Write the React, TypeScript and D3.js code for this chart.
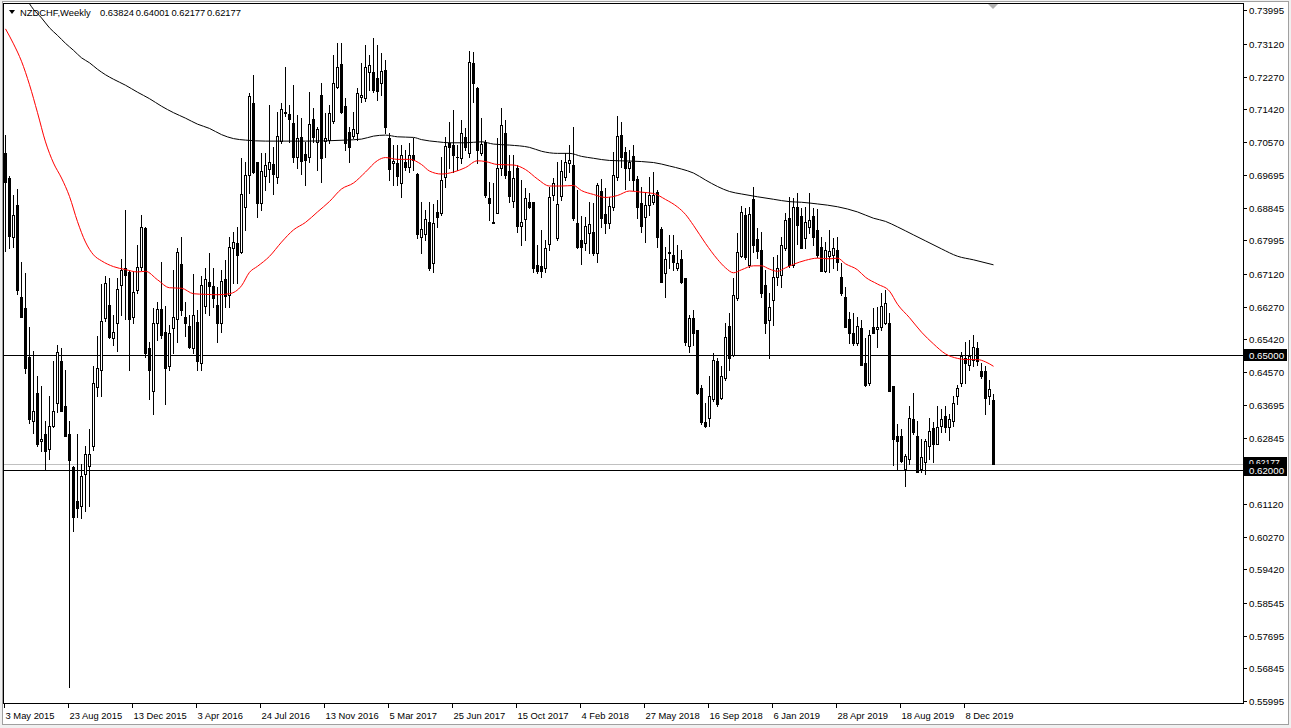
import React, { useEffect } from 'react';
import * as d3 from 'd3';

// Weekly NZDCHF candles, 3 May 2015 .. 26 Jan 2020 (248 weeks)
const opens = [
0.7027,0.6962,0.6809,0.6892,0.6653,0.6623,0.6495,0.6329,0.6401,0.6276,
0.6295,0.6257,0.6317,0.6375,0.6484,0.6369,0.6295,0.6208,0.6120,0.6107,
0.6190,0.6212,0.6264,0.6417,0.6463,0.6598,0.6631,0.6545,0.6585,0.6684,
0.6728,0.6718,0.6601,0.6670,0.6731,0.6832,0.6520,0.6406,0.6585,0.6622,
0.6562,0.6471,0.6572,0.6596,0.6739,0.6601,0.6577,0.6518,0.6588,0.6481,
0.6629,0.6692,0.6682,0.6632,0.6585,0.6700,0.6658,0.6780,0.6793,0.6770,
0.6887,0.6970,0.7158,0.7004,0.6897,0.6968,0.6986,0.6999,0.6965,0.7059,
0.7134,0.7129,0.7106,0.7017,0.7069,0.7025,0.7017,0.7116,0.7056,0.7178,
0.7059,0.7061,0.7111,0.7199,0.7259,0.7150,0.7082,0.7072,0.7080,0.7173,
0.7171,0.7238,0.7238,0.7223,0.7210,0.7243,0.7067,0.7002,0.7002,0.6949,
0.7004,0.6991,0.7022,0.6973,0.6809,0.6817,0.6848,0.6741,0.6874,0.6871,
0.6965,0.7054,0.7048,0.7017,0.7015,0.7069,0.7028,0.7262,0.7197,0.7028,
0.7056,0.6910,0.6845,0.6871,0.6988,0.7080,0.6981,0.6903,0.6988,0.6838,
0.6856,0.6900,0.6900,0.6736,0.6734,0.6728,0.6791,0.6918,0.6806,0.6916,
0.6965,0.7002,0.6996,0.6845,0.6801,0.6793,0.6819,0.6822,0.6767,0.6929,
0.6869,0.6845,0.6887,0.6965,0.7074,0.7030,0.6988,0.7020,0.6960,0.6897,
0.6861,0.6892,0.6900,0.6926,0.6830,0.6715,0.6767,0.6762,0.6728,0.6752,
0.6702,0.6525,0.6598,0.6567,0.6416,0.6325,0.6336,0.6385,0.6486,0.6388,
0.6442,0.6577,0.6502,0.6650,0.6760,0.6866,0.6736,0.6908,0.6804,0.6775,
0.6684,0.6593,0.6645,0.6705,0.6710,0.6780,0.6858,0.6736,0.6887,0.6864,
0.6806,0.6835,0.6864,0.6827,0.6783,0.6721,0.6760,0.6762,0.6775,0.6705,
0.6653,0.6596,0.6557,0.6533,0.6572,0.6481,0.6427,0.6575,0.6570,0.6575,
0.6585,0.6585,0.6419,0.6289,0.6289,0.6203,0.6231,0.6333,0.6289,0.6203,
0.6221,0.6263,0.6310,0.6270,0.6315,0.6341,0.6312,0.6328,0.6393,0.6429,
0.6494,0.6476,0.6489,0.6520,0.6460,0.6458,0.6393,0.63824];

const highs = [
0.7074,0.6968,0.6918,0.6934,0.6744,0.6715,0.6573,0.6512,0.6445,0.6419,
0.6328,0.6395,0.6484,0.6526,0.6518,0.6463,0.6328,0.6212,0.6295,0.6218,
0.6263,0.6307,0.6471,0.6551,0.6687,0.6708,0.6701,0.6606,0.6701,0.6752,
0.6879,0.6723,0.6718,0.6788,0.6866,0.6835,0.6534,0.6623,0.6640,0.6744,
0.6629,0.6579,0.6723,0.6779,0.6809,0.6640,0.6606,0.6713,0.6618,0.6706,
0.6728,0.6767,0.6728,0.6679,0.6723,0.6749,0.6809,0.6822,0.6835,0.7015,
0.7004,0.7184,0.7230,0.7004,0.7028,0.7028,0.7152,0.7043,0.7134,0.7158,
0.7251,0.7152,0.7204,0.7126,0.7119,0.7056,0.7186,0.7145,0.7095,0.7210,
0.7132,0.7152,0.7282,0.7314,0.7314,0.7171,0.7095,0.7134,0.7197,0.7262,
0.7308,0.7282,0.7327,0.7308,0.7288,0.7269,0.7080,0.7048,0.7048,0.7048,
0.7035,0.7054,0.7067,0.6975,0.6900,0.6879,0.6900,0.6895,0.6905,0.7017,
0.7069,0.7108,0.7139,0.7048,0.7113,0.7093,0.7293,0.7290,0.7199,0.7119,
0.7061,0.6952,0.6949,0.7067,0.7145,0.7113,0.7022,0.7022,0.6996,0.6957,
0.6936,0.6923,0.6900,0.6788,0.6827,0.6801,0.6939,0.6962,0.7004,0.7009,
0.7028,0.7048,0.7095,0.6931,0.6864,0.6861,0.6900,0.6897,0.6949,0.6960,
0.6936,0.6913,0.7030,0.7124,0.7108,0.7043,0.7035,0.7048,0.6968,0.6939,
0.6926,0.6965,0.6978,0.6931,0.6835,0.6783,0.6814,0.6814,0.6788,0.6775,
0.6702,0.6606,0.6619,0.6567,0.6424,0.6377,0.6445,0.6507,0.6494,0.6471,
0.6585,0.6611,0.6702,0.6819,0.6890,0.6884,0.6887,0.6939,0.6832,0.6822,
0.6723,0.6663,0.6757,0.6762,0.6809,0.6871,0.6913,0.6910,0.6923,0.6884,
0.6887,0.6923,0.6884,0.6882,0.6809,0.6796,0.6827,0.6806,0.6809,0.6741,
0.6679,0.6614,0.6611,0.6601,0.6593,0.6546,0.6567,0.6624,0.6627,0.6663,
0.6671,0.6611,0.6421,0.6320,0.6307,0.6242,0.6367,0.6403,0.6328,0.6283,
0.6281,0.6336,0.6325,0.6367,0.6359,0.6367,0.6346,0.6393,0.6424,0.6510,
0.6536,0.6541,0.6554,0.6536,0.6481,0.6473,0.6437,0.64001];

const lows = [
0.6773,0.6780,0.6783,0.6661,0.6600,0.6453,0.6323,0.6297,0.6263,0.6250,
0.6200,0.6229,0.6312,0.6351,0.6354,0.6289,0.5634,0.6043,0.6078,0.6075,
0.6095,0.6107,0.6252,0.6395,0.6395,0.6590,0.6545,0.6528,0.6512,0.6606,
0.6596,0.6463,0.6585,0.6662,0.6723,0.6495,0.6385,0.6346,0.6540,0.6546,
0.6373,0.6463,0.6507,0.6534,0.6606,0.6551,0.6518,0.6507,0.6463,0.6463,
0.6611,0.6606,0.6627,0.6536,0.6562,0.6627,0.6627,0.6689,0.6689,0.6767,
0.6827,0.6923,0.6975,0.6861,0.6879,0.6931,0.6952,0.6921,0.6949,0.7054,
0.7124,0.7056,0.7004,0.6988,0.6973,0.6944,0.7004,0.7056,0.6983,0.6952,
0.7017,0.7054,0.7106,0.7197,0.7132,0.7035,0.7004,0.7067,0.7061,0.7160,
0.7163,0.7191,0.7186,0.7165,0.7178,0.7080,0.6957,0.6944,0.6944,0.6913,
0.6983,0.6978,0.6983,0.6806,0.6767,0.6801,0.6723,0.6718,0.6835,0.6866,
0.6939,0.6988,0.6978,0.6983,0.7002,0.7035,0.7017,0.7160,0.7002,0.7022,
0.6913,0.6853,0.6845,0.6871,0.6970,0.6962,0.6900,0.6887,0.6822,0.6788,
0.6801,0.6884,0.6718,0.6715,0.6705,0.6718,0.6775,0.6905,0.6801,0.6905,
0.6957,0.6978,0.6853,0.6780,0.6739,0.6775,0.6767,0.6762,0.6744,0.6835,
0.6819,0.6832,0.6879,0.6957,0.6991,0.6934,0.6957,0.6931,0.6858,0.6822,
0.6796,0.6866,0.6895,0.6783,0.6692,0.6653,0.6728,0.6723,0.6723,0.6689,
0.6528,0.6510,0.6528,0.6398,0.6320,0.6312,0.6315,0.6380,0.6369,0.6385,
0.6437,0.6463,0.6499,0.6645,0.6757,0.6752,0.6731,0.6770,0.6754,0.6653,
0.6559,0.6494,0.6580,0.6684,0.6679,0.6775,0.6731,0.6731,0.6790,0.6780,
0.6780,0.6819,0.6788,0.6757,0.6721,0.6718,0.6718,0.6728,0.6723,0.6658,
0.6575,0.6533,0.6528,0.6528,0.6476,0.6419,0.6424,0.6559,0.6523,0.6567,
0.6583,0.6408,0.6213,0.6203,0.6221,0.6159,0.6216,0.6296,0.6195,0.6195,
0.6190,0.6229,0.6221,0.6268,0.6299,0.6299,0.6278,0.6315,0.6372,0.6419,
0.6427,0.6463,0.6471,0.6476,0.6442,0.6346,0.6372,0.62177];

const closes = [
0.6952,0.6812,0.6866,0.6671,0.6601,0.6468,0.6334,0.6356,0.6268,0.6281,
0.6251,0.6315,0.6356,0.6509,0.6356,0.6289,0.6226,0.6078,0.6103,0.6185,
0.6242,0.6244,0.6429,0.6468,0.6590,0.6689,0.6549,0.6562,0.6674,0.6723,
0.6710,0.6596,0.6666,0.6731,0.6835,0.6507,0.6463,0.6585,0.6622,0.6554,
0.6466,0.6557,0.6601,0.6770,0.6619,0.6585,0.6523,0.6606,0.6486,0.6684,
0.6700,0.6682,0.6650,0.6585,0.6695,0.6655,0.6783,0.6796,0.6762,0.6921,
0.6970,0.7176,0.6978,0.6897,0.6981,0.6996,0.7004,0.6973,0.7072,0.7142,
0.7132,0.7116,0.7017,0.7067,0.7007,0.7009,0.7103,0.7069,0.7090,0.7015,
0.7067,0.7132,0.7210,0.7251,0.7134,0.7054,0.7043,0.7090,0.7184,0.7178,
0.7251,0.7256,0.7191,0.7189,0.7241,0.7095,0.6986,0.7007,0.6968,0.7022,
0.6991,0.7022,0.7009,0.6817,0.6830,0.6856,0.6728,0.6845,0.6861,0.6957,
0.7046,0.7043,0.7022,0.7018,0.7080,0.7043,0.7264,0.7210,0.7035,0.7051,
0.6918,0.6897,0.6848,0.6988,0.7100,0.6970,0.6916,0.6962,0.6838,0.6848,
0.6910,0.6887,0.6728,0.6721,0.6721,0.6780,0.6913,0.6949,0.6895,0.6981,
0.7004,0.7009,0.6858,0.6783,0.6783,0.6838,0.6843,0.6767,0.6944,0.6858,
0.6845,0.6890,0.6970,0.7072,0.7017,0.6988,0.7004,0.6957,0.6887,0.6838,
0.6892,0.6918,0.6918,0.6809,0.6692,0.6752,0.6770,0.6744,0.6741,0.6692,
0.6536,0.6598,0.6559,0.6403,0.6325,0.6317,0.6393,0.6489,0.6372,0.6445,
0.6549,0.6494,0.6658,0.6770,0.6874,0.6757,0.6869,0.6788,0.6773,0.6663,
0.6585,0.6627,0.6705,0.6728,0.6788,0.6853,0.6736,0.6887,0.6840,0.6780,
0.6848,0.6853,0.6809,0.6762,0.6721,0.6775,0.6773,0.6780,0.6744,0.6663,
0.6575,0.6559,0.6531,0.6577,0.6476,0.6424,0.6554,0.6559,0.6575,0.6629,
0.6637,0.6408,0.6283,0.6276,0.6224,0.6237,0.6336,0.6299,0.6195,0.6234,
0.6276,0.6302,0.6270,0.6312,0.6333,0.6312,0.6333,0.6377,0.6414,0.6499,
0.6479,0.6499,0.6523,0.6484,0.6445,0.6390,0.6411,0.62177];

// Moving averages: [bar index, value]
const redMa: [number, number][] = [
[0,0.73514],[2,0.73123],[4,0.72668],[6,0.72057],[8,0.71328],[10,0.70566],[12,0.70015],[14,0.69624],
[16,0.69143],[18,0.68487],[20,0.67954],[22,0.67621],[24,0.67465],[27,0.67314],[30,0.67236],[33,0.67176],
[35,0.67192],[38,0.66971],[41,0.66763],[44,0.66750],[47,0.66607],[50,0.66591],[53,0.66581],[56,0.66607],
[59,0.66815],[61,0.67166],[63,0.67322],[66,0.67582],[69,0.67952],[72,0.68272],[75,0.68467],[78,0.68740],
[81,0.69013],[84,0.69338],[87,0.69494],[90,0.69780],[93,0.70080],[95,0.70158],[98,0.70111],[101,0.70111],
[104,0.69976],[106,0.69806],[109,0.69728],[112,0.69780],[115,0.69897],[118,0.70074],[120,0.70054],[123,0.69976],
[127,0.69963],[130,0.69845],[133,0.69598],[136,0.69416],[139,0.69416],[142,0.69429],[144,0.69297],[147,0.69195],
[150,0.69117],[153,0.69169],[156,0.69286],[159,0.69255],[162,0.69221],[165,0.69065],[168,0.68870],[170,0.68675],
[172,0.68389],[175,0.67920],[178,0.67504],[180,0.67283],[182,0.67153],[184,0.67231],[187,0.67335],[189,0.67335],
[191,0.67249],[193,0.67192],[195,0.67283],[197,0.67374],[200,0.67478],[203,0.67535],[206,0.67517],[208,0.67535],
[210,0.67387],[213,0.67231],[215,0.67036],[218,0.66859],[221,0.66674],[223,0.66333],[226,0.65982],[229,0.65605],
[232,0.65298],[235,0.65038],[238,0.64921],[240,0.64890],[243,0.64890],[245,0.64830],[247,0.64715]];

const blackMa: [number, number][] = [
[5,0.74333],[7,0.74021],[9,0.73800],[11,0.73540],[13,0.73344],[15,0.73136],[17,0.72954],[19,0.72759],
[21,0.72629],[23,0.72460],[25,0.72317],[27,0.72200],[30,0.72044],[33,0.71862],[36,0.71693],[39,0.71497],
[42,0.71328],[45,0.71185],[48,0.71029],[51,0.70917],[54,0.70756],[57,0.70652],[60,0.70613],[65,0.70587],
[75,0.70587],[85,0.70613],[89,0.70639],[92,0.70717],[95,0.70743],[98,0.70699],[102,0.70683],[104,0.70626],
[108,0.70569],[111,0.70543],[115,0.70543],[119,0.70569],[122,0.70509],[126,0.70483],[131,0.70423],[134,0.70322],
[138,0.70267],[141,0.70267],[144,0.70189],[147,0.70139],[151,0.70082],[156,0.70067],[162,0.70028],[166,0.69937],
[169,0.69858],[172,0.69754],[175,0.69572],[178,0.69403],[181,0.69273],[184,0.69208],[188,0.69135],[192,0.69070],
[196,0.69008],[199,0.68992],[203,0.68948],[208,0.68875],[213,0.68740],[217,0.68576],[220,0.68493],[223,0.68350],
[227,0.68141],[230,0.67985],[234,0.67777],[238,0.67585],[242,0.67491],[247,0.67361]];

const priceTicks = [0.73995,0.73120,0.72270,0.71420,0.70570,0.69695,0.68845,0.67995,0.67120,0.66270,
0.65420,0.64570,0.63695,0.62845,0.61120,0.60270,0.59420,0.58545,0.57695,0.56845,0.55995];

const dateLabels = ['3 May 2015','23 Aug 2015','13 Dec 2015','3 Apr 2016','24 Jul 2016','13 Nov 2016',
'5 Mar 2017','25 Jun 2017','15 Oct 2017','4 Feb 2018','27 May 2018','16 Sep 2018','6 Jan 2019',
'28 Apr 2019','18 Aug 2019','8 Dec 2019'];
const dateLabelBars = [0,16,32,48,64,80,96,112,128,144,160,176,192,208,224,240];

const levelLines = [0.65, 0.62];
const bidPrice = 0.62177;
const symbolName = 'NZDCHF,Weekly';
const titleValues = ['0.63824', '0.64001', '0.62177', '0.62177'];

const FONT = "'Liberation Sans', Arial, sans-serif";

export default function App() {
  useEffect(() => {
    document.body.style.margin = '0';
  }, []);
  const W = 1291, H = 728;
  const left = 3.5, top = 3.5, right = 1243.5, bottom = 703.5;
  const x = d3.scaleLinear().domain([0, 247]).range([5, 993]);
  const y = d3.scaleLinear().domain([0.55995, 0.73995]).range([700.7, 10.4]);

  const line = d3.line<[number, number]>()
    .x(d => Math.round(x(d[0])) + 0.5)
    .y(d => y(d[1]))
    .curve(d3.curveMonotoneX);

  const fmt = (v: number) => v.toFixed(5);

  return (
    <svg width={W} height={H} style={{ position: 'absolute', left: 0, top: 0, display: 'block' }}
      fontFamily={FONT}>
      <defs>
        <clipPath id="plot">
          <rect x={left + 0.5} y={top + 0.5} width={right - left - 1} height={bottom - top - 1} />
        </clipPath>
      </defs>
      <rect x={0} y={0} width={W} height={H} fill="#f0f0f0" />
      <rect x={2.5} y={1.5} width={W - 5} height={H - 5} fill="#ffffff" stroke="#a0a0a0" />
      {/* frame */}
      <rect x={left} y={top} width={right - left} height={bottom - top} fill="none" stroke="#000" shapeRendering="crispEdges" />

      <g clipPath="url(#plot)">
        {/* bid line */}
        <line x1={left} x2={right} y1={Math.round(y(bidPrice)) + 0.5} y2={Math.round(y(bidPrice)) + 0.5}
          stroke="#c0c0c0" shapeRendering="crispEdges" />
        {levelLines.map(v => (
          <line key={v} x1={left} x2={right} y1={Math.round(y(v)) + 0.5} y2={Math.round(y(v)) + 0.5}
            stroke="#000" shapeRendering="crispEdges" />
        ))}
        <g shapeRendering="crispEdges">
          {opens.map((o, i) => {
            const cx = Math.round(x(i));
            const c = closes[i];
            const yH = Math.round(y(highs[i]));
            const yL = Math.round(y(lows[i]));
            const yT = Math.round(y(Math.max(o, c)));
            const yB = Math.round(y(Math.min(o, c)));
            const up = c >= o;
            let body;
            if (up) {
              body = yB - yT < 1
                ? <line x1={cx - 1} x2={cx + 2} y1={yT + 0.5} y2={yT + 0.5} stroke="#000" />
                : <rect x={cx - 0.5} y={yT + 0.5} width={2} height={yB - yT} fill="#fff" stroke="#000" />;
            } else {
              body = <rect x={cx - 1} y={yT} width={3} height={Math.max(1, yB - yT + 1)} fill="#000" />;
            }
            return (
              <g key={i}>
                <line x1={cx + 0.5} x2={cx + 0.5} y1={yH} y2={yL + 1} stroke="#000" />
                {body}
              </g>
            );
          })}
        </g>
        <path d={line(redMa) || ''} fill="none" stroke="#ff0000" strokeWidth={1} />
        <path d={line(blackMa) || ''} fill="none" stroke="#000000" strokeWidth={1} />
      </g>

      {/* chart shift marker */}
      <polygon points="988,4 998,4 993,9" fill="#b0b0b0" />

      {/* title */}
      <polygon points="9,10 15,10 12,14" fill="#000" />
      <text x={20} y={16} fontSize={9.4} fill="#000">{symbolName}</text>
      {titleValues.map((t, k) => (
        <text key={k} x={100 + k * 35.7} y={16} fontSize={9.4} fill="#000">{t}</text>
      ))}

      {/* price axis */}
      <g fontSize={9.7} fill="#000">
        {priceTicks.map(v => {
          const yy = Math.round(y(v)) + 0.5;
          return (
            <g key={v}>
              <line x1={right} x2={right + 3} y1={yy} y2={yy} stroke="#000" shapeRendering="crispEdges" />
              <text x={1249} y={yy + 3.5}>{fmt(v)}</text>
            </g>
          );
        })}
      </g>
      {/* bid label sits just above the 0.62000 label and is partly covered by it, as in the terminal */}
      {[bidPrice, ...levelLines.slice().reverse()].map(v => {
        const yy = Math.round(y(v));
        const isBid = v === bidPrice;
        return (
          <g key={'b' + v}>
            <rect x={right + 0.5} y={yy - (isBid ? 7 : 6)} width={43} height={12} fill="#000" />
            <text x={1249} y={yy + (isBid ? 2 : 4)} fontSize={isBid ? 8.5 : 9.7} fill="#fff">{fmt(v)}</text>
          </g>
        );
      })}

      {/* date axis */}
      <g fontSize={9.4} fill="#000">
        {dateLabels.map((lab, k) => {
          const cx = Math.round(x(dateLabelBars[k]));
          return (
            <g key={lab}>
              <line x1={cx - 0.5} x2={cx - 0.5} y1={bottom} y2={bottom + 4} stroke="#000" shapeRendering="crispEdges" />
              <text x={cx + 0.5} y={719}>{lab}</text>
            </g>
          );
        })}
      </g>
    </svg>
  );
}
